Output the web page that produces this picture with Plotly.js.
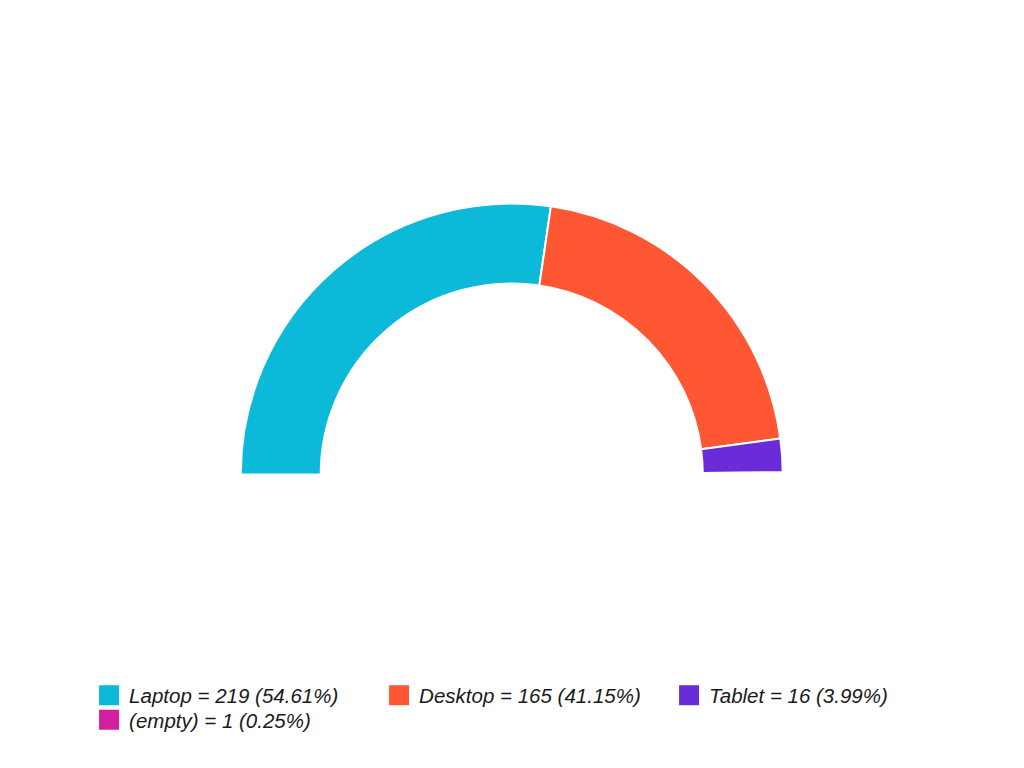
<!DOCTYPE html>
<html>
<head>
<meta charset="utf-8">
<script src="https://cdn.plot.ly/plotly-3.0.1.min.js"></script>
<style>html,body{margin:0;padding:0;background:#fff;}#chart{width:1024px;height:768px;}</style>
</head>
<body>
<div id="chart"></div>
<script>
// ---- data ----
var categories = ["Laptop", "Desktop", "Tablet", "(empty)"];
var counts = [219, 165, 16, 1];
var colors = ["#0cb9d8", "#ff5733", "#6a2bd9", "#d41f9e"];

var total = counts.reduce(function (a, b) { return a + b; }, 0);
var legendLabels = categories.map(function (c, i) {
  return c + " = " + counts[i] + " (" + (counts[i] / total * 100).toFixed(2) + "%)";
});

// half donut: visible slices + an invisible slice equal to the total
var pieTrace = {
  type: "pie",
  labels: legendLabels.concat(["__hidden__"]),
  values: counts.concat([total]),
  sort: false,
  direction: "clockwise",
  rotation: -90,
  hole: 0.705,
  textinfo: "none",
  hoverinfo: "skip",
  showlegend: false,
  marker: {
    colors: colors.concat(["rgba(0,0,0,0)"]),
    line: { color: "#ffffff", width: [2, 2, 2, 2, 0] }
  },
  domain: { x: [0.2345, 0.7650], y: [0.0293, 0.7350] }
};

var legendTraces = categories.map(function (c, i) {
  return {
    type: "scatter",
    mode: "markers",
    x: [null],
    y: [null],
    name: legendLabels[i],
    legend: i < 3 ? "legend" : "legend2",
    hoverinfo: "skip",
    marker: { symbol: "square", size: 16, color: colors[i], line: { color: colors[i], width: 4 } }
  };
});

var legendFont = { family: "Liberation Sans, Arial, sans-serif", size: 20.5, color: "#1a1a1a", style: "italic" };

var layout = {
  width: 1024,
  height: 768,
  margin: { l: 0, r: 0, t: 0, b: 0 },
  paper_bgcolor: "#ffffff",
  plot_bgcolor: "#ffffff",
  xaxis: { visible: false },
  yaxis: { visible: false },
  showlegend: true,
  legend: {
    orientation: "h",
    x: 0.087, xanchor: "left",
    y: 0.0944, yanchor: "middle",
    entrywidth: 245,
    itemsizing: "trace",
    font: legendFont,
    bgcolor: "rgba(0,0,0,0)"
  },
  legend2: {
    orientation: "h",
    x: 0.087, xanchor: "left",
    y: 0.0625, yanchor: "middle",
    entrywidth: 245,
    itemsizing: "trace",
    font: legendFont,
    bgcolor: "rgba(0,0,0,0)"
  }
};

Plotly.newPlot("chart", [pieTrace].concat(legendTraces), layout, { staticPlot: true, displayModeBar: false });
</script>
</body>
</html>
